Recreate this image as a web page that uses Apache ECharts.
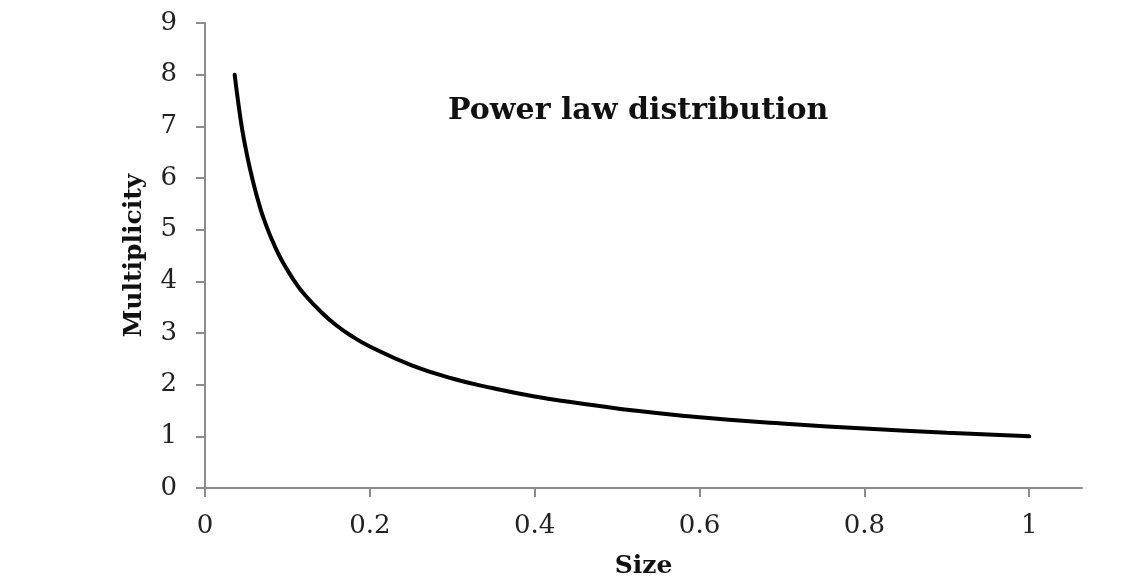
<!DOCTYPE html>
<html>
<head>
<meta charset="utf-8">
<script src="https://cdn.jsdelivr.net/npm/echarts@6/dist/echarts.min.js"></script>
<style>html,body{margin:0;padding:0;background:#fff}#c{width:1140px;height:586px}</style>
</head>
<body>
<div id="c"></div>
<script>
const sizeValues = [0.036, 0.04, 0.045, 0.05, 0.055, 0.06, 0.065, 0.07, 0.08, 0.09, 0.1, 0.11, 0.12, 0.14, 0.16, 0.18, 0.2, 0.25, 0.3, 0.35, 0.4, 0.45, 0.5, 0.6, 0.7, 0.8, 0.9, 1.0];
const multiplicityValues = [8.0, 7.5, 6.95, 6.52, 6.15, 5.82, 5.53, 5.27, 4.85, 4.5, 4.22, 3.97, 3.76, 3.42, 3.14, 2.92, 2.74, 2.38, 2.12, 1.93, 1.77, 1.65, 1.54, 1.37, 1.25, 1.15, 1.07, 1.0];
const xTicks = [0, 0.2, 0.4, 0.6, 0.8, 1];
const titleText = 'Power law distribution';
const xName = 'Size';
const yName = 'Multiplicity';

const FONT = "'DejaVu Serif', 'Liberation Serif', serif";
const chart = echarts.init(document.getElementById('c'));
chart.setOption({
  animation: false,
  backgroundColor: '#ffffff',
  title: {
    text: titleText,
    left: 443, top: 91,
    textStyle: { fontFamily: FONT, fontWeight: 'bold', fontSize: 30, color: '#111' }
  },
  grid: { left: 205, right: 58, top: 23, bottom: 98, containLabel: false },
  xAxis: {
    type: 'value', min: 0, max: 1.064,
    name: xName, nameLocation: 'middle', nameGap: 66,
    nameTextStyle: { fontFamily: FONT, fontWeight: 'bold', fontSize: 25, color: '#111' },
    axisLine: { show: true, onZero: false, lineStyle: { color: '#8c8c8c', width: 2 } },
    axisTick: { show: true, inside: false, length: 9, customValues: xTicks, lineStyle: { color: '#8c8c8c', width: 2 } },
    axisLabel: { customValues: xTicks, margin: 25, fontFamily: FONT, fontSize: 26, color: '#222',
      formatter: v => String(v) },
    splitLine: { show: false }
  },
  yAxis: {
    type: 'value', min: 0, max: 9, interval: 1,
    name: yName, nameLocation: 'middle', nameGap: 58, nameRotate: 90,
    nameTextStyle: { fontFamily: FONT, fontWeight: 'bold', fontSize: 25, color: '#111' },
    axisLine: { show: true, lineStyle: { color: '#8c8c8c', width: 2 } },
    axisTick: { show: true, inside: false, length: 9, lineStyle: { color: '#8c8c8c', width: 2 } },
    axisLabel: { margin: 28, fontFamily: FONT, fontSize: 26, color: '#222' },
    splitLine: { show: false }
  },
  series: [{
    type: 'line',
    data: sizeValues.map((x, i) => [x, multiplicityValues[i]]),
    smooth: true,
    showSymbol: false,
    lineStyle: { color: '#000', width: 4, cap: 'round', join: 'round' }
  }]
});
</script>
</body>
</html>
